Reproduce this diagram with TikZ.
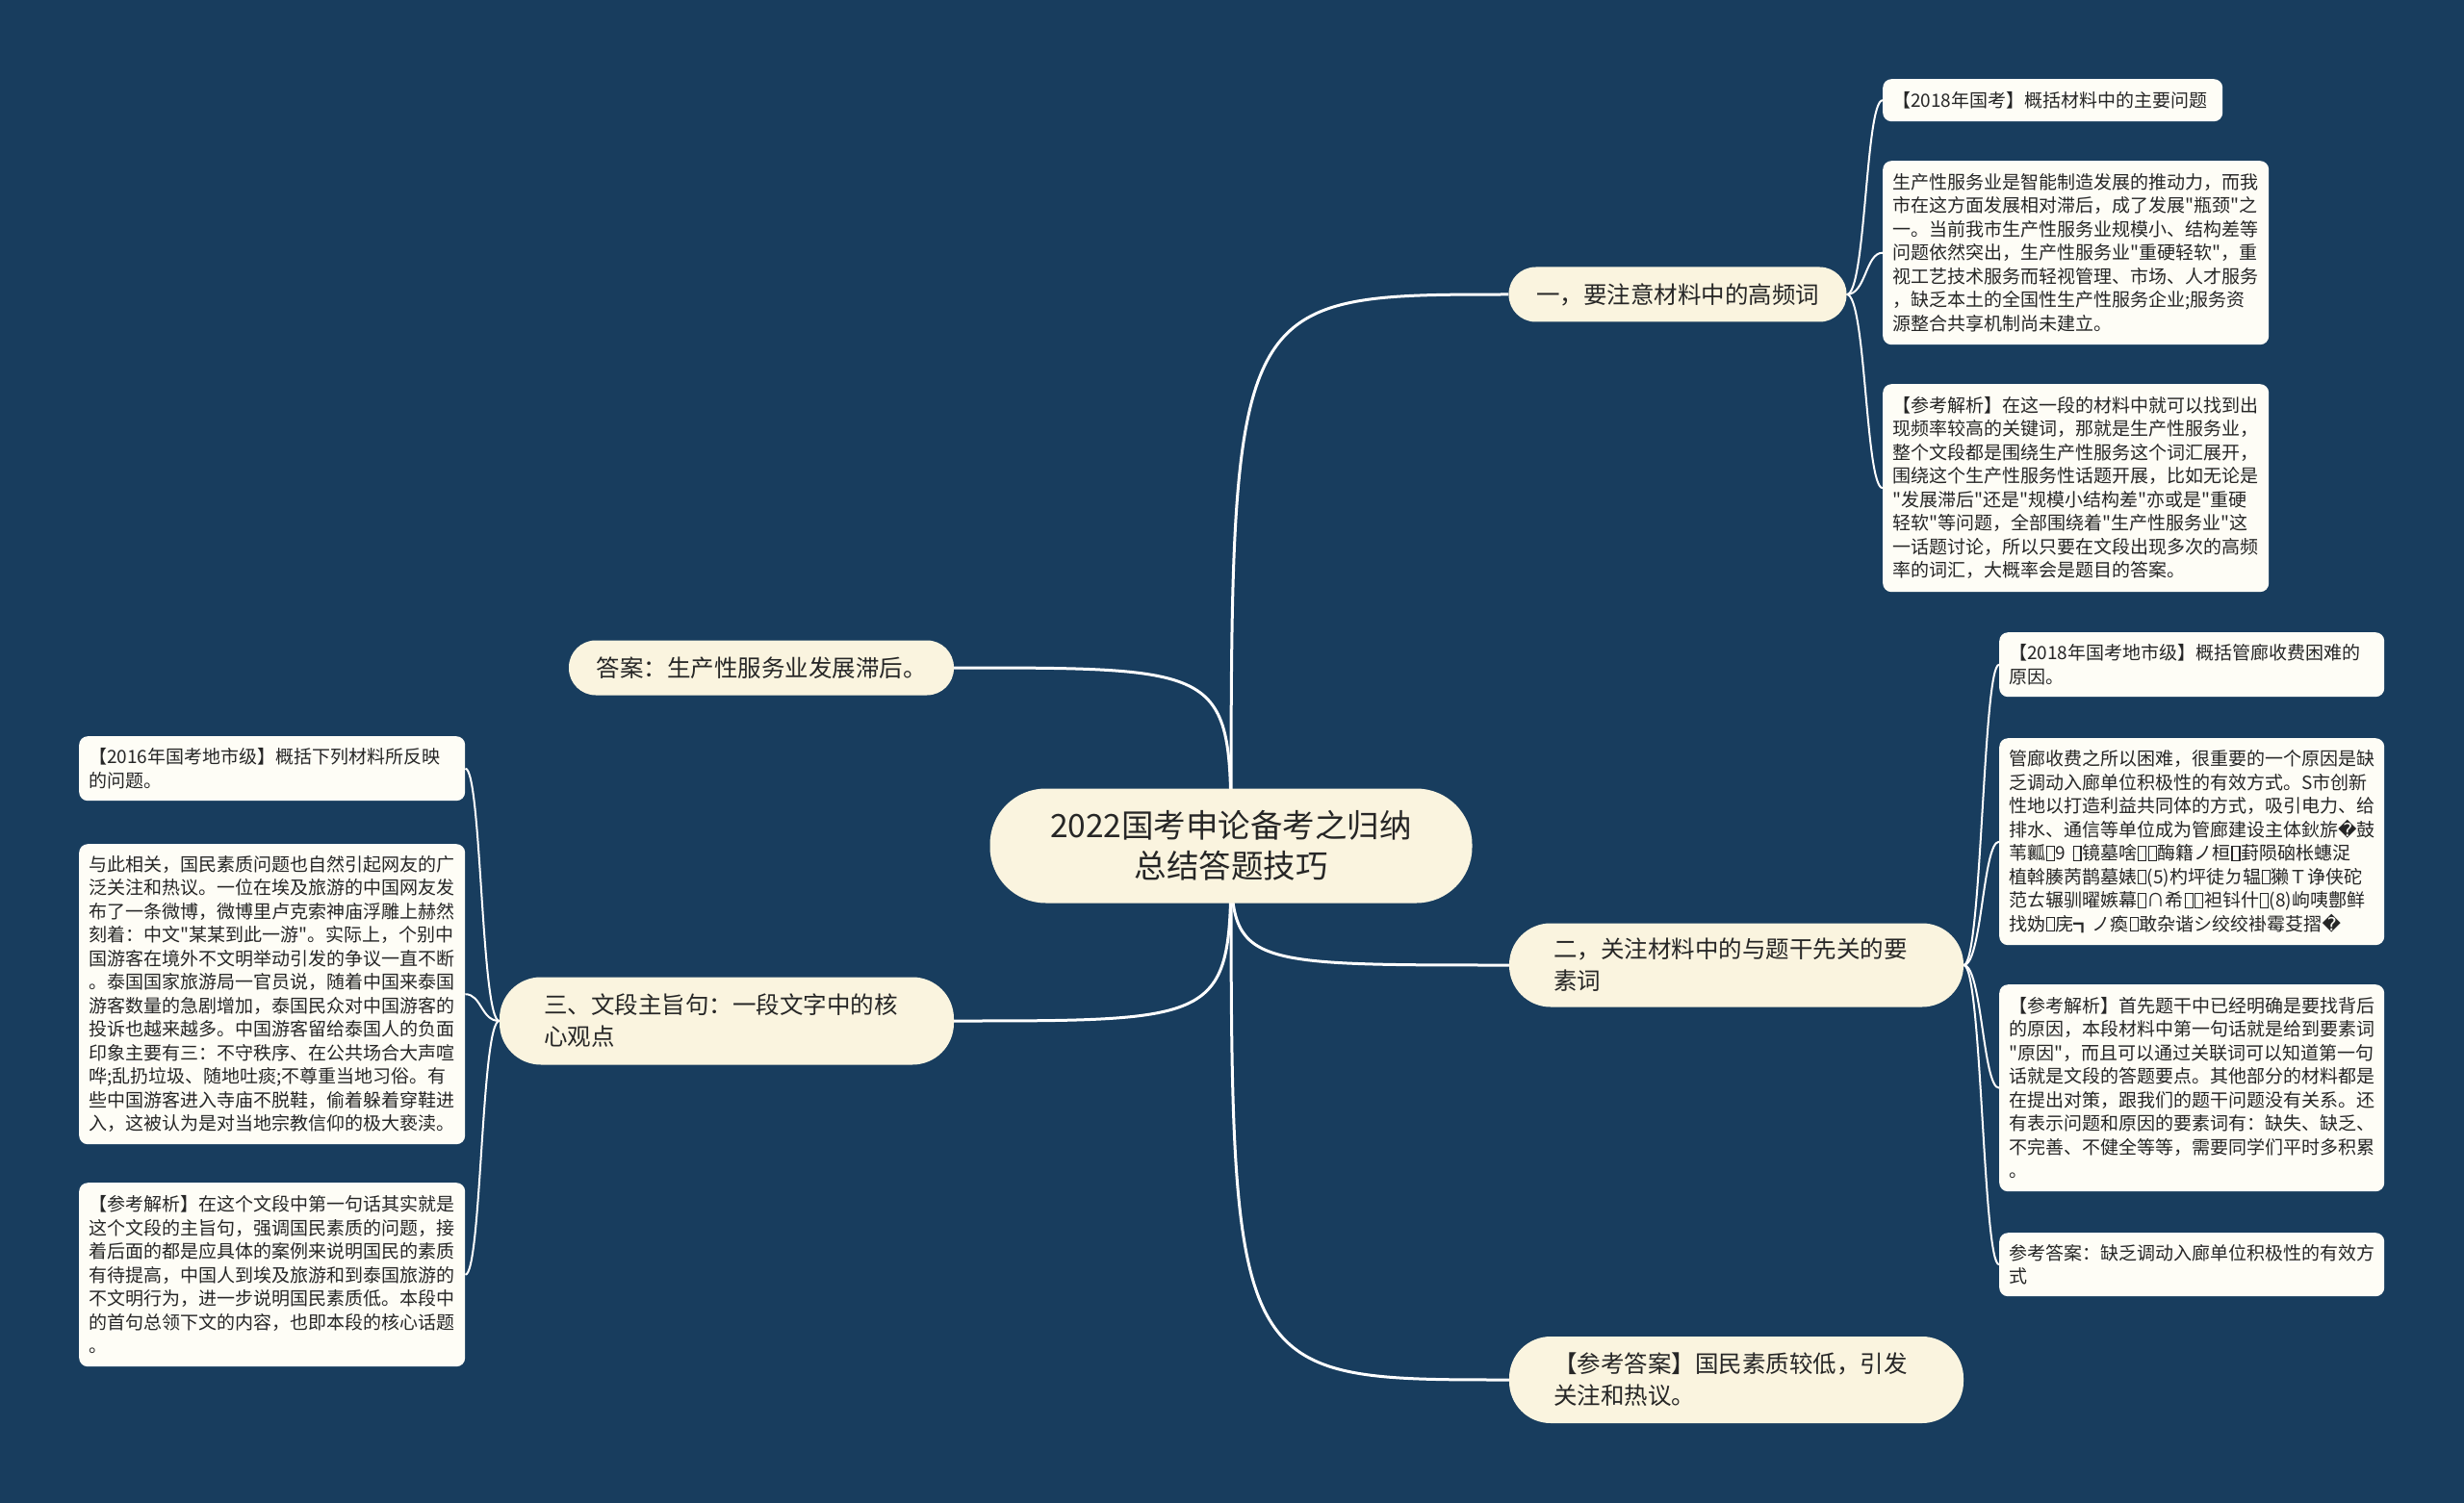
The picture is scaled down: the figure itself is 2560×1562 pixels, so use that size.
\documentclass[tikz,border=0pt]{standalone}
\usepackage{fontspec}
\newfontfamily\cjk{Noto Sans CJK SC}
\newfontfamily\symfont{DejaVu Sans}
\usetikzlibrary{backgrounds,calc}
\definecolor{bgcol}{HTML}{183D5E}
\definecolor{cream}{HTML}{FAF4DF}
\definecolor{leafc}{HTML}{FEFDF6}
\definecolor{txt}{HTML}{262626}
\newcommand\tofu{\kern0.04em{\fboxrule=0.06em\fboxsep=0pt\fbox{\vrule width0pt height0.72em depth0pt\hspace{0.36em}}}\kern0.04em}
\tikzset{
  rootnode/.style={fill=cream, text=txt, rounded corners=58pt, minimum width=501pt, minimum height=119pt, align=center, inner sep=0pt, font=\cjk\fontsize{33.5}{42}\selectfont},
  topic/.style={fill=cream, text=txt, inner ysep=0pt},
  topicone/.style={topic, rounded corners=28pt, minimum height=57pt, inner xsep=27pt, font=\cjk\fontsize{24.5}{33}\selectfont},
  topictwo/.style={topic, rounded corners=43pt, minimum height=89pt, inner xsep=46pt, text width=380pt, align=left, font=\cjk\fontsize{24.5}{33}\selectfont},
  leaf/.style={fill=leafc, text=txt, rounded corners=9pt, inner xsep=10pt, inner ysep=0pt, anchor=north west, align=left, font=\cjk\fontsize{19}{24.5}\selectfont},
  rootline/.style={draw=white, line width=3pt},
  leafline/.style={draw=white, line width=2pt},
}
\begin{document}
\begin{tikzpicture}[x=1pt,y=-1pt]
\useasboundingbox (0,0) rectangle (2560,1562);

% root
\node[rootnode] (root) at (1279,879) {2022国考申论备考之归纳\\总结答题技巧};

% level one
\node[topicone, minimum width=351pt] (n1) at (1743,306) {一，要注意材料中的高频词};
\node[topicone, minimum width=400pt] (n2) at (791,694) {答案：生产性服务业发展滞后。};
\node[topictwo, minimum height=91pt] (n3) at (755,1061) {三、文段主旨句：一段文字中的核\\心观点};
\node[topictwo, minimum height=87pt] (n4) at (1804,1003) {二，关注材料中的与题干先关的要\\素词};
\node[topictwo, minimum height=90pt] (n5) at (1804,1434) {【参考答案】国民素质较低，引发\\关注和热议。};

% leaves of n1
\node[leaf, text width=333pt, minimum height=44pt] (a) at (1956,82) {【2018年国考】概括材料中的主要问题};
\node[leaf, text width=381pt, minimum height=191pt] (b) at (1956,167) {生产性服务业是智能制造发展的推动力，而我\\市在这方面发展相对滞后，成了发展"瓶颈"之\\一。当前我市生产性服务业规模小、结构差等\\问题依然突出，生产性服务业"重硬轻软"，重\\视工艺技术服务而轻视管理、市场、人才服务\\，缺乏本土的全国性生产性服务企业;服务资\\源整合共享机制尚未建立。};
\node[leaf, text width=381pt, minimum height=216pt] (c) at (1956,399) {【参考解析】在这一段的材料中就可以找到出\\现频率较高的关键词，那就是生产性服务业，\\整个文段都是围绕生产性服务这个词汇展开，\\围绕这个生产性服务性话题开展，比如无论是\\"发展滞后"还是"规模小结构差"亦或是"重硬\\轻软"等问题，全部围绕着"生产性服务业"这\\一话题讨论，所以只要在文段出现多次的高频\\率的词汇，大概率会是题目的答案。};

% leaves of n4
\node[leaf, text width=380pt, minimum height=67pt] (d) at (2077,657) {【2018年国考地市级】概括管廊收费困难的\\原因。};
\node[leaf, text width=380pt, minimum height=215pt] (e) at (2077,767) {管廊收费之所以困难，很重要的一个原因是缺\\乏调动入廊单位积极性的有效方式。S市创新\\性地以打造利益共同体的方式，吸引电力、给\\排水、通信等单位成为管廊建设主体鈥旂{\symfont �}鼓\\苇瓤\tofu9 \tofu 镜墓啥\tofu\tofu 酶籍ノ桓\tofu 葑陨硇枨蟪浞\\植斡腠苪鹊墓婊\tofu(5)杓坪徒ㄉ辒\tofu 獭Ｔ诤侠砣\\范ㄊ辗驯曜嫉幕\tofu∩希\tofu\tofu 袒钭什\tofu(8)岣咦鄷鲜\\找妫\tofu 庑┓ノ瘓\tofu 敢杂谐シ绞绞褂霉芟摺{\symfont �}};
\node[leaf, text width=380pt, minimum height=215pt] (f) at (2077,1023) {【参考解析】首先题干中已经明确是要找背后\\的原因，本段材料中第一句话就是给到要素词\\"原因"，而且可以通过关联词可以知道第一句\\话就是文段的答题要点。其他部分的材料都是\\在提出对策，跟我们的题干问题没有关系。还\\有表示问题和原因的要素词有：缺失、缺乏、\\不完善、不健全等等，需要同学们平时多积累\\。};
\node[leaf, text width=380pt, minimum height=66pt] (g) at (2077,1281) {参考答案：缺乏调动入廊单位积极性的有效方\\式};

% leaves of n3
\node[leaf, text width=381pt, minimum height=67pt] (h) at (82,765) {【2016年国考地市级】概括下列材料所反映\\的问题。};
\node[leaf, text width=381pt, minimum height=312pt] (i) at (82,877) {与此相关，国民素质问题也自然引起网友的广\\泛关注和热议。一位在埃及旅游的中国网友发\\布了一条微博，微博里卢克索神庙浮雕上赫然\\刻着：中文"某某到此一游"。实际上，个别中\\国游客在境外不文明举动引发的争议一直不断\\。泰国国家旅游局一官员说，随着中国来泰国\\游客数量的急剧增加，泰国民众对中国游客的\\投诉也越来越多。中国游客留给泰国人的负面\\印象主要有三：不守秩序、在公共场合大声喧\\哗;乱扔垃圾、随地吐痰;不尊重当地习俗。有\\些中国游客进入寺庙不脱鞋，偷着躲着穿鞋进\\入，这被认为是对当地宗教信仰的极大亵渎。};
\node[leaf, text width=381pt, minimum height=191pt] (j) at (82,1229) {【参考解析】在这个文段中第一句话其实就是\\这个文段的主旨句，强调国民素质的问题，接\\着后面的都是应具体的案例来说明国民的素质\\有待提高，中国人到埃及旅游和到泰国旅游的\\不文明行为，进一步说明国民素质低。本段中\\的首句总领下文的内容，也即本段的核心话题\\。};

\begin{pgfonlayer}{background}
\fill[bgcol] (0,0) rectangle (2560,1562);
% root connectors
\draw[rootline] (root.center) .. controls (root.center |- n1.west) .. (n1.west);
\draw[rootline] (root.center) .. controls (root.center |- n2.east) .. (n2.east);
\draw[rootline] (root.center) .. controls (root.center |- n3.east) .. (n3.east);
\draw[rootline] (root.center) .. controls (root.center |- n4.west) .. (n4.west);
\draw[rootline] (root.center) .. controls (root.center |- n5.west) .. (n5.west);
% n1 leaves
\foreach \lf in {a,b,c}{
  \draw[leafline] (n1.east) .. controls ($(n1.east)+(20,0)$) and ($(\lf.west)+(-18,0)$) .. (\lf.west);
}
% n4 leaves
\foreach \lf in {d,e,f,g}{
  \draw[leafline] (n4.east) .. controls ($(n4.east)+(19,0)$) and ($(\lf.west)+(-17,0)$) .. (\lf.west);
}
% n3 leaves
\foreach \lf in {h,i,j}{
  \draw[leafline] (n3.west) .. controls ($(n3.west)+(-19,0)$) and ($(\lf.east)+(17,0)$) .. (\lf.east);
}
\end{pgfonlayer}
\end{tikzpicture}
\end{document}
